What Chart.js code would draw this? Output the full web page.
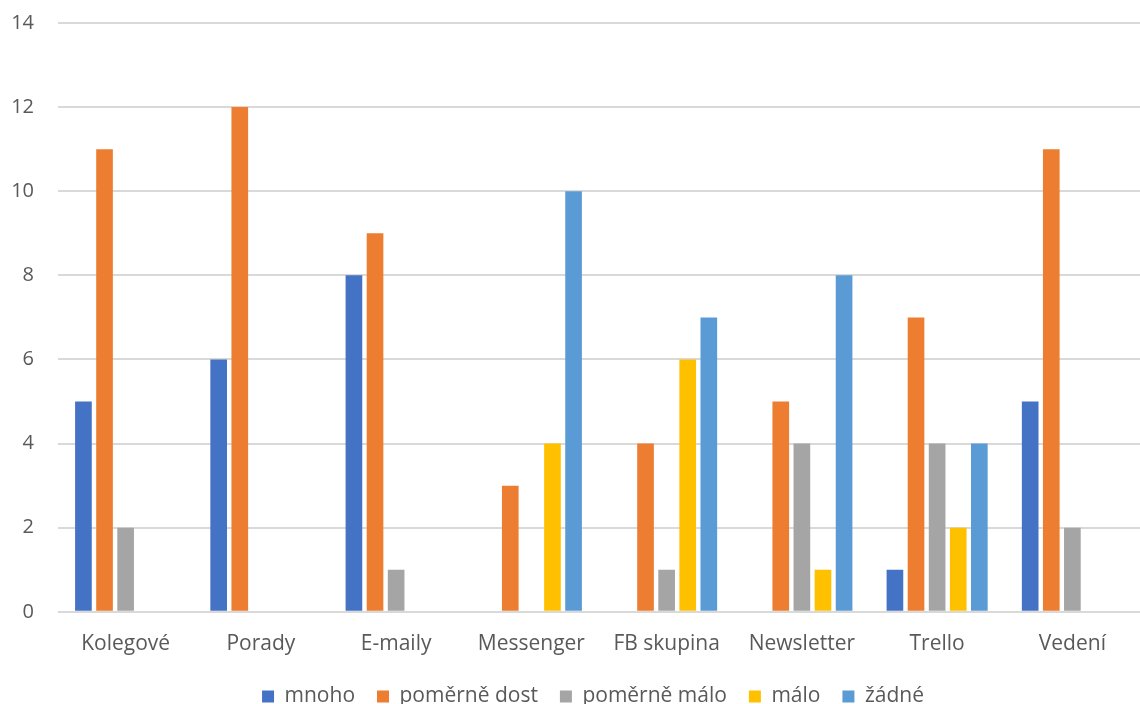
<!DOCTYPE html>
<html>
<head>
<meta charset="utf-8">
<script src="https://cdn.jsdelivr.net/npm/chart.js@4/dist/chart.umd.min.js"></script>
<style>
  html, body { margin: 0; padding: 0; background: #fff; }
  #wrap { width: 1140px; height: 704px; }
</style>
</head>
<body>
<div id="wrap"><canvas id="c" width="1140" height="704"></canvas></div>
<script>
const categories = ['Kolegové', 'Porady', 'E-maily', 'Messenger', 'FB skupina', 'Newsletter', 'Trello', 'Vedení'];
const mnoho        = [5, 6, 8, 0, 0, 0, 1, 5];
const pomerneDost  = [11, 12, 9, 3, 4, 5, 7, 11];
const pomerneMalo  = [2, 0, 1, 0, 1, 4, 4, 2];
const malo         = [0, 0, 0, 4, 6, 1, 2, 0];
const zadne        = [0, 0, 0, 10, 7, 8, 4, 0];
const yTicks = [0, 2, 4, 6, 8, 10, 12, 14];

const FONT = "'Open Sans', 'Noto Sans', sans-serif";
const TEXT = '#595959';

function series(label, data, color) {
  return {
    label, data,
    backgroundColor: color,
    borderWidth: 0,
    categoryPercentage: 0.78,
    barPercentage: 0.79
  };
}

// Move the legend roughly under the middle of the plot area
const legendUnderPlot = {
  id: 'legendUnderPlot',
  afterLayout(chart) {
    const lg = chart.legend;
    if (!lg) return;
    const target = (chart.chartArea.left + chart.chartArea.right) / 2 - 6;
    const shift = target - (lg.left + lg.right) / 2;
    lg.left += shift;
    lg.right += shift;
  }
};

new Chart(document.getElementById('c'), {
  type: 'bar',
  data: {
    labels: categories,
    datasets: [
      series('mnoho', mnoho, '#4472C4'),
      series('poměrně dost', pomerneDost, '#ED7D31'),
      series('poměrně málo', pomerneMalo, '#A5A5A5'),
      series('málo', malo, '#FFC000'),
      series('žádné', zadne, '#5B9BD5')
    ]
  },
  plugins: [legendUnderPlot],
  options: {
    responsive: false,
    animation: false,
    layout: { padding: { top: 0, right: 0, bottom: -13, left: 0 } },
    plugins: {
      tooltip: { enabled: false },
      legend: {
        position: 'bottom',
        labels: {
          font: { family: FONT, size: 21 },
          color: TEXT,
          boxWidth: 12,
          boxHeight: 12,
          padding: 22
        }
      }
    },
    scales: {
      x: {
        afterFit(scale) { scale.height -= 13; },
        grid: { display: false, drawTicks: false },
        border: { display: false },
        ticks: { font: { family: FONT, size: 21 }, color: TEXT, padding: 20, maxRotation: 0 }
      },
      y: {
        min: 0, max: 14,
        afterFit(scale) { scale.width = 58; scale.paddingTop = 23; },
        afterBuildTicks(scale) { scale.ticks = yTicks.map(v => ({ value: v })); },
        grid: { color: '#D9D9D9', lineWidth: 2, drawTicks: false },
        border: { display: false },
        ticks: { font: { family: FONT, size: 20 }, color: TEXT, padding: 24 }
      }
    }
  }
});
</script>
</body>
</html>
